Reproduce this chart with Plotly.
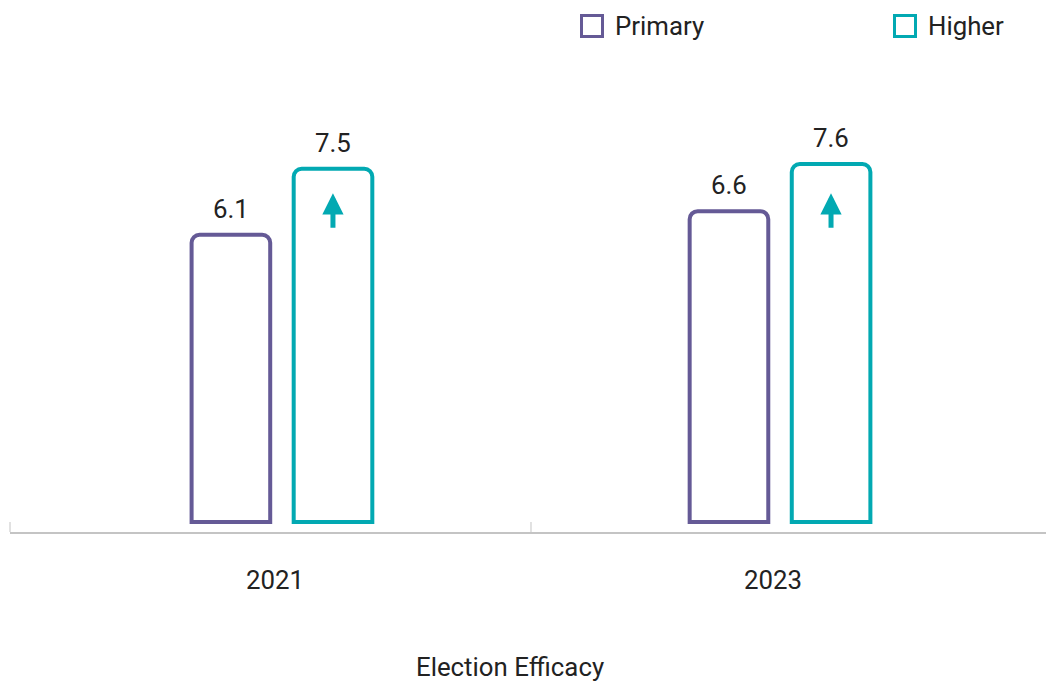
import plotly.graph_objects as go

# Election efficacy scores by education level
years = ["2021", "2023"]
series_names = ["Primary", "Higher"]
primary = [6.1, 6.6]
higher = [7.5, 7.6]
values = {"Primary": primary, "Higher": higher}
colors = {"Primary": "#655a96", "Higher": "#02a9b2"}
axis_title = "Election Efficacy"

TEXT = "#222222"
FONT = "Roboto"
FS = 25.8
W, H = 1046, 682
ML, MR, MT, MB = 10, 0, 60, 150
plot_w = W - ML - MR
plot_h = H - MT - MB
GRID = "#c4c4c4"

fig = go.Figure()

for name in series_names:
    fig.add_trace(go.Bar(
        x=years,
        y=values[name],
        name=name,
        marker=dict(color="white", line=dict(color=colors[name], width=4), cornerradius=8),
        showlegend=False,
        hoverinfo="x+y+name",
    ))

# value labels above each bar, shifted to the bar's slot within the group
shift = {"Primary": -51, "Higher": 51}
annotations = []
for name in series_names:
    for i, v in enumerate(values[name]):
        annotations.append(dict(
            x=i, y=v, xref="x", yref="y", xshift=shift[name], yshift=9,
            text=f"{v:.1f}", showarrow=False, yanchor="bottom",
            font=dict(family=FONT, size=FS, color=TEXT),
        ))

# upward arrows inside the Higher bars where the score exceeds Primary
for i, (p, h) in enumerate(zip(primary, higher)):
    if h > p:
        annotations.append(dict(
            x=i, y=6.98, xref="x", yref="y", xshift=shift["Higher"],
            ax=0, ay=36, axref="pixel", ayref="pixel",
            text="", showarrow=True, arrowhead=2, arrowsize=0.85,
            arrowwidth=5, arrowcolor=colors["Higher"],
        ))

def px_x(px):
    return (px - ML) / plot_w

def px_y(py):
    return (MT + plot_h - py) / plot_h

# axis title
annotations.append(dict(
    x=px_x(510), y=px_y(667), xref="paper", yref="paper",
    text=axis_title, showarrow=False, xanchor="center", yanchor="middle",
    font=dict(family=FONT, size=FS, color=TEXT),
))

# legend: outlined squares with labels
shapes = []
legend_x = {"Primary": 580, "Higher": 893}
for name in series_names:
    x0 = legend_x[name]
    shapes.append(dict(
        type="rect", xref="paper", yref="paper",
        x0=px_x(x0 + 1.5), x1=px_x(x0 + 22.5), y0=px_y(36.5), y1=px_y(15.5),
        line=dict(color=colors[name], width=3), fillcolor="white",
    ))
    annotations.append(dict(
        x=px_x(x0 + 33), y=px_y(26), xref="paper", yref="paper",
        text=name, showarrow=False, xanchor="left", yanchor="middle",
        font=dict(family=FONT, size=FS, color=TEXT),
    ))

# category boundary ticks on the baseline
for xr, xv in (("paper", 0.0), ("x", 0.5)):
    shapes.append(dict(
        type="line", xref=xr, yref="paper", x0=xv, x1=xv, y0=0, y1=10 / plot_h,
        line=dict(color=GRID, width=1),
    ))

fig.update_layout(
    width=W, height=H,
    margin=dict(l=ML, r=MR, t=MT, b=MB),
    paper_bgcolor="white", plot_bgcolor="white",
    barmode="group", bargap=0.59, bargroupgap=0.23,
    font=dict(family=FONT, size=FS, color=TEXT),
    annotations=annotations,
    shapes=shapes,
    showlegend=False,
)

fig.update_xaxes(
    type="category", range=[-0.546, 1.534],
    showline=True, linecolor=GRID, linewidth=1.5,
    ticks="", ticklabelstandoff=24, ticklabelshift=-7,
    tickfont=dict(family=FONT, size=FS, color=TEXT),
    showgrid=False, zeroline=False,
)
fig.update_yaxes(
    range=[-0.212, 9.81], visible=False, showgrid=False, zeroline=False,
)

fig.write_html("out.html")
